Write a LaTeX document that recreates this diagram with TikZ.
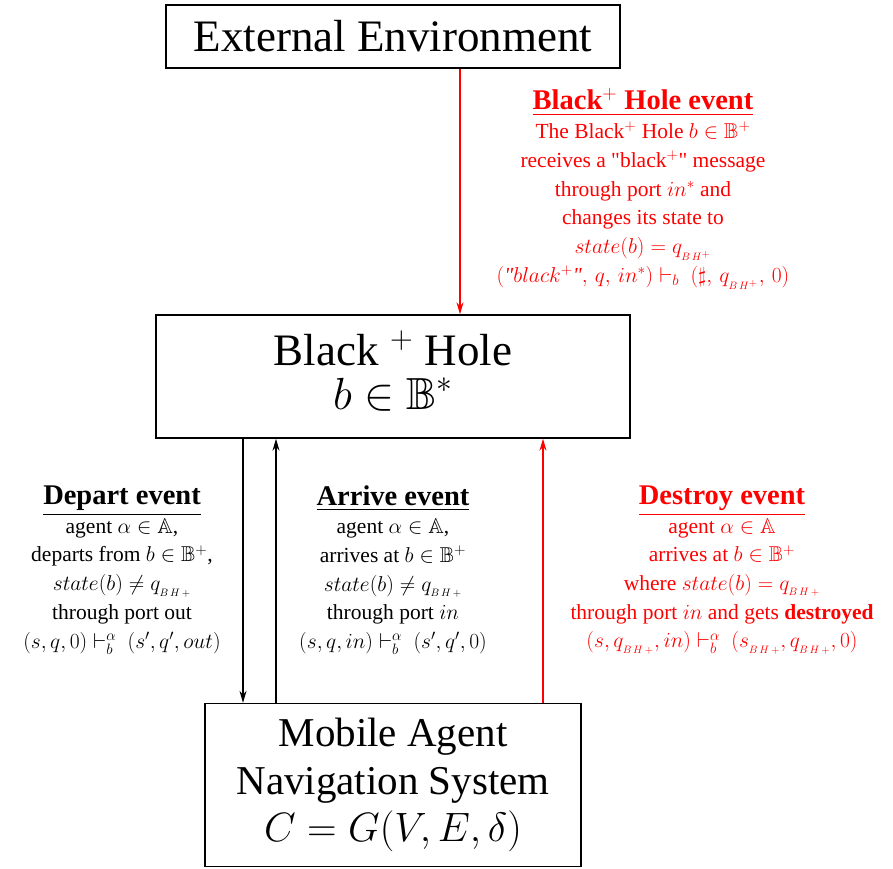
\RequirePackage{fix-cm}
\documentclass[tikz,border=0pt]{standalone}
\usepackage{amssymb}
\usepackage{fontspec}
\setmainfont{Liberation Serif}[Ligatures=TeXOff]
\usetikzlibrary{arrows.meta}
\definecolor{evred}{RGB}{255,0,0}
\tikzset{
  sysbox/.style={draw, line width=1.4pt, align=center, inner sep=0pt},
  evtext/.style={align=center, inner sep=0pt,
    font=\fontsize{21.5}{28.7}\selectfont},
  flow/.style={line width=1.2pt, -{Stealth[length=12pt,width=7pt]}},
}
\newcommand{\evtitle}[1]{{\fontsize{28.5}{31}\selectfont\underline{\textbf{#1}}}}
% state q_{BH+}, with a doubly lowered, loosely set subscript
\newcommand{\qbh}{q_{_{B\mkern3mu H\mkern3mu +}}}
\newcommand{\qbhs}{q_{_{B\mkern3mu H^{+}}}}
\newcommand{\sbh}{s_{_{B\mkern3mu H\mkern3mu +}}}
\begin{document}
\begin{tikzpicture}[x=1pt,y=-1pt]
  \useasboundingbox (0,0) rectangle (893,868);

  % system components
  \node[sysbox, font=\fontsize{45}{50}\selectfont,
        minimum width=454pt, minimum height=63pt] (ext) at (393,36.5)
    {External Environment};
  \node[sysbox, minimum width=474pt, minimum height=123pt] (bh) at (393,376.5) {};
  \node[align=center, inner sep=0pt, font=\fontsize{45}{50}\selectfont]
    (bhlabel) at (393,371) {Black $^+$ Hole\\[-6pt] $b \in \mathbb{B}^*$};
  \node[sysbox, font=\fontsize{41}{47.5}\selectfont,
        minimum width=376pt, minimum height=163pt] (mob) at (393,785)
    {Mobile Agent\\ Navigation System\\ $C = G(V, E, \delta)$};

  % connector columns
  \coordinate (cdep) at (243,0);
  \coordinate (carr) at (276,0);
  \coordinate (cdes) at (543,0);
  \coordinate (cbh)  at (460,0);

  \draw[flow, evred] (ext.south -| cbh) -- (bh.north -| cbh);
  \draw[flow] (bh.south -| cdep) -- (mob.north -| cdep);
  \draw[flow] (mob.north -| carr) -- (bh.south -| carr);
  \draw[flow, evred] (mob.north -| cdes) -- (bh.south -| cdes);

  % event descriptions
  \node[evtext, text=evred] (tbh) at (643,189)
    {\evtitle{Black$^+$ Hole event}\\
     The Black$^+$ Hole $b \in \mathbb{B}^+$\\
     receives a "black$^+$" message\\
     through port $in^*$ and\\
     changes its state to\\
     $state(b) = \qbhs$\\
     $(\textit{"}black^+\textit{"},\, q,\, in^*) \vdash_b\ (\sharp,\, \qbhs,\, 0)$};

  \node[evtext] (tdep) at (122,570)
    {\evtitle{Depart event}\\
     agent $\alpha \in \mathbb{A}$,\\
     departs from $b \in \mathbb{B}^+$,\\
     $state(b) \neq \qbh$\\
     through port out\\
     $(s, q, 0) \vdash^{\alpha}_{b}\ (s', q', out)$};

  \node[evtext] (tarr) at (393,570)
    {\evtitle{Arrive event}\\
     agent $\alpha \in \mathbb{A}$,\\
     arrives at $b \in \mathbb{B}^+$\\
     $state(b) \neq \qbh$\\
     through port $in$\\
     $(s, q, in) \vdash^{\alpha}_{b}\ (s', q', 0)$};

  \node[evtext, text=evred] (tdes) at (722,570)
    {\evtitle{Destroy event}\\
     agent $\alpha \in \mathbb{A}$\\
     arrives at $b \in \mathbb{B}^+$\\
     where $state(b) = \qbh$\\
     through port $in$ and gets \textbf{destroyed}\\
     $(s, \qbh, in) \vdash^{\alpha}_{b}\ (\sbh, \qbh, 0)$};
\end{tikzpicture}
\end{document}
